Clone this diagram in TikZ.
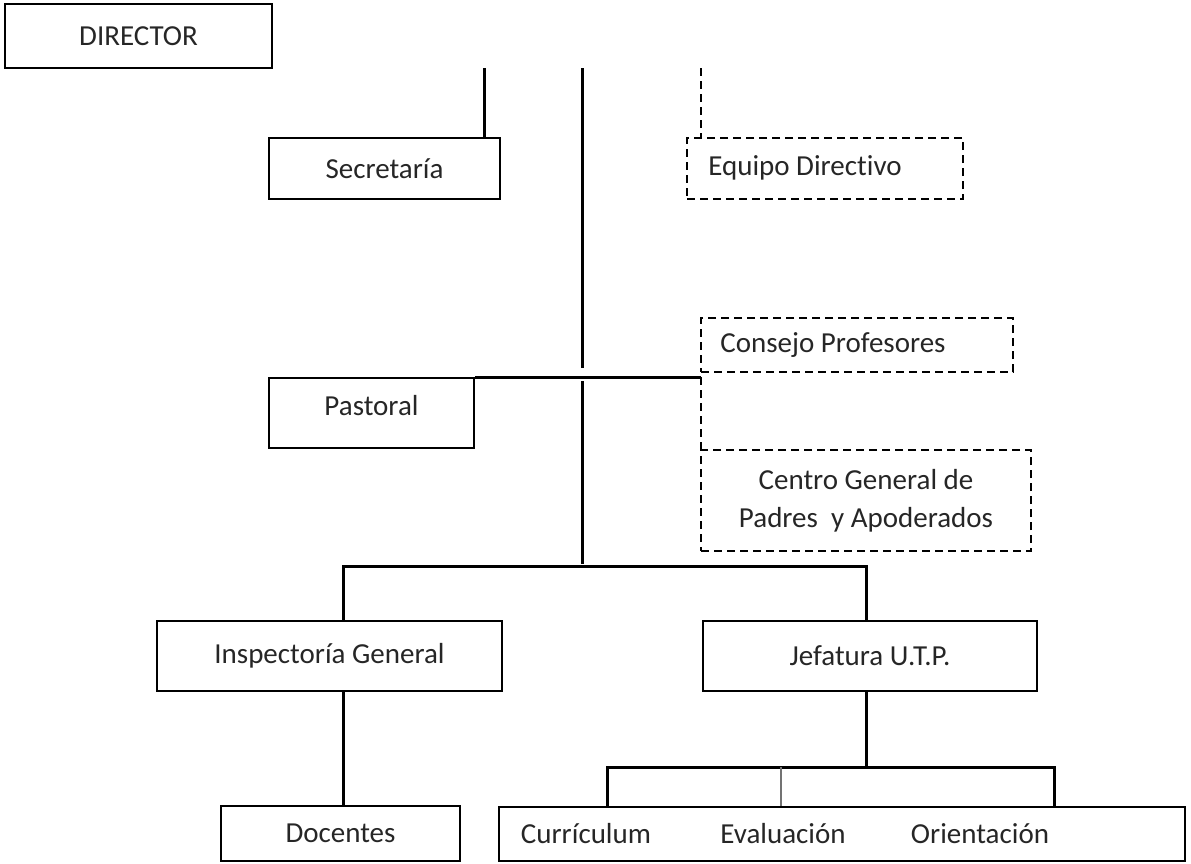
\documentclass[tikz,border=0pt]{standalone}
\usepackage{fontspec}
\setmainfont{Carlito}[Ligatures=CommonOff]
\begin{document}
\begin{tikzpicture}[x=1pt,y=-1pt,
  box/.style={draw, line width=2pt, inner sep=0pt, font=\fontsize{29}{34}\selectfont, text=black!85},
  dbox/.style={box, dash pattern=on 8pt off 5pt},
  conn/.style={line width=3pt},
  dconn/.style={line width=2.5pt, dash pattern=on 8pt off 5pt},
  thin/.style={line width=2pt, black!55},
  txt/.style={inner sep=0pt, font=\fontsize{29}{34}\selectfont, text=black!85}]
\useasboundingbox (0,0) rectangle (1191,863);
% boxes
\node[box, minimum width=267, minimum height=64] (dir) at (138.5,36) {DIRECTOR};
\node[box, minimum width=231, minimum height=61] (sec) at (384.5,168.5) {Secretaría};
\node[dbox, minimum width=276, minimum height=61] (eq) at (825,168.5) {};
\node[txt] (eqt) at (805,168) {Equipo Directivo};
\node[dbox, minimum width=312, minimum height=54] (cons) at (857,345) {};
\node[txt] (const) at (833,345) {Consejo Profesores};
\node[box, minimum width=205, minimum height=70, text depth=16pt] (past) at (371.5,413) {Pastoral};
\node[dbox, minimum width=330, minimum height=101, align=center] (cgp) at (866,500.5) {Centro General de\\[4pt]Padres\ \ y Apoderados};
\node[box, minimum width=345, minimum height=70] (insp) at (329.5,656) {Inspectoría General};
\node[box, minimum width=334, minimum height=70] (jef) at (870,656) {Jefatura U.T.P.};
\node[box, minimum width=239, minimum height=55] (doc) at (340.5,833.5) {Docentes};
\node[box, minimum width=686, minimum height=54] (bot) at (842,834) {};
\node[txt] (cur) at (586,834) {Currículum};
\node[txt] (eva) at (783,834) {Evaluación};
\node[txt] (ori) at (980,834) {Orientación};
% free ends
\coordinate (t1) at (484,68);
\coordinate (t2) at (582,68);
\coordinate (t3) at (701,68);
\coordinate (c1) at (582,368);
\coordinate (c2) at (582,381);
\coordinate (c3) at (582,564);
\coordinate (hp) at (past.north east -| t3);
\coordinate (hl) at (343,566);
\coordinate (hr) at (866,566);
\coordinate (j1) at (866,767);
\coordinate (bl) at (607,767);
\coordinate (bm) at (781,767);
\coordinate (br) at (1054,767);
% connectors
\draw[conn] (t1) -- (t1 |- sec.north);
\draw[dconn] (t3) -- (t3 |- eq.north);
\draw[conn] (t2) -- (c1);
\draw[conn] (past.north east) -- (hp);
\draw[dconn] (hp) -- (hp |- cgp.north);
\draw[conn] (c2) -- (c3);
\draw[conn, line cap=rect] (hl |- insp.north) -- (hl) -- (hr) -- (hr |- jef.north);
\draw[conn] (hl |- insp.south) -- (hl |- doc.north);
\draw[conn] (hr |- jef.south) -- (j1);
\draw[conn] (bl |- bot.north) -- (bl) -- (br) -- (br |- bot.north);
\draw[thin] (bm) -- (bm |- bot.north);
\end{tikzpicture}
\end{document}
